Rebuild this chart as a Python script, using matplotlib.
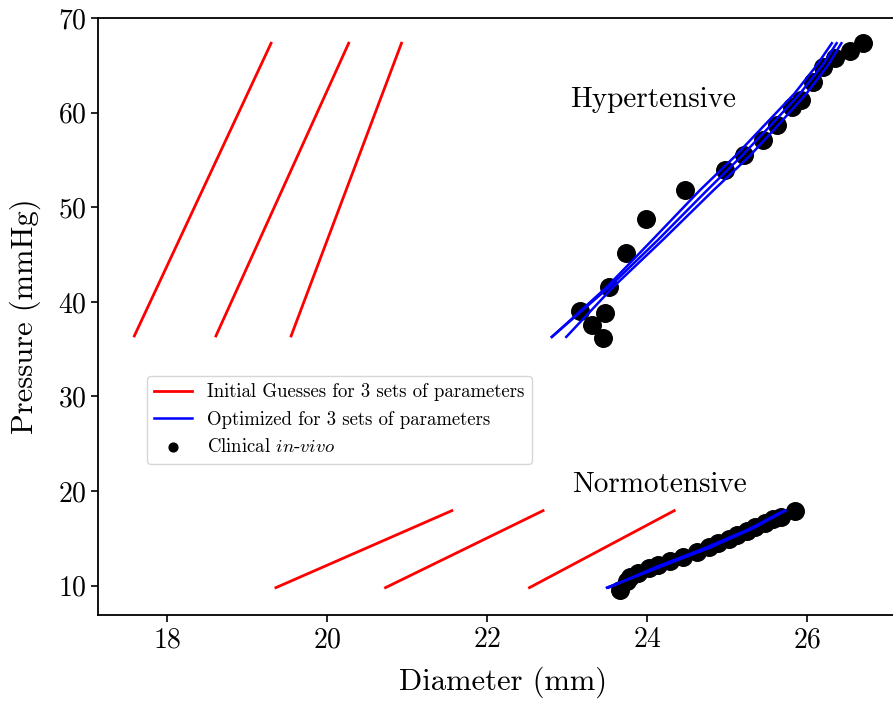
# ---  IMPORTS  --- #
# ----------------- #
import numpy as np
import matplotlib
matplotlib.use('Agg')
import matplotlib.pyplot as plt


# ---  DATA  --- #
# -------------- #
# Initial guesses (red), hypertensive: pressure range and diameters at ends
HYP_GUESS_P = [36.4, 67.35]
HYP_GUESS_1 = [17.59, 19.30]
HYP_GUESS_2 = [18.61, 20.27]
HYP_GUESS_3 = [19.55, 20.93]
# Initial guesses (red), normotensive
NORM_GUESS_P = [9.79, 17.93]
NORM_GUESS_1 = [19.36, 21.56]
NORM_GUESS_2 = [20.73, 22.70]
NORM_GUESS_3 = [22.53, 24.34]
# Optimized fits (blue), hypertensive
HYP_OPT_P = [36.3, 41.6, 46.5, 51.8, 55.4, 58.7, 62.0, 65.0, 67.35]
HYP_OPT_1 = [22.81, 23.50, 24.06, 24.66, 25.10, 25.47, 25.84, 26.12, 26.31]
HYP_OPT_2 = [22.81, 23.53, 24.13, 24.75, 25.18, 25.55, 25.91, 26.19, 26.37]
HYP_OPT_3 = [22.99, 23.58, 24.19, 24.83, 25.28, 25.64, 25.99, 26.26, 26.43]
# Optimized fits (blue), normotensive
NORM_OPT_P = [9.79, 12.0, 14.0, 16.0, 17.93]
NORM_OPT_1 = [23.50, 24.15, 24.76, 25.30, 25.72]
NORM_OPT_2 = [23.50, 24.17, 24.78, 25.31, 25.73]
NORM_OPT_3 = [23.52, 24.12, 24.73, 25.28, 25.71]
# Clinical in-vivo measurements, hypertensive
HYP_D = [23.45, 23.31, 23.48, 23.16, 23.52, 23.74, 23.99, 24.48, 24.975,
         25.21, 25.45, 25.62, 25.81, 25.93, 26.08, 26.20, 26.35, 26.54,
         26.70]
HYP_P = [36.16, 37.57, 38.87, 39.08, 41.62, 45.15, 48.78, 51.84, 53.96,
         55.54, 57.13, 58.72, 60.65, 61.36, 63.29, 64.88, 65.77, 66.57,
         67.35]
# Clinical in-vivo measurements, normotensive
NORM_D = [23.66, 23.75, 23.79, 23.89, 24.02, 24.14, 24.29, 24.45, 24.62,
          24.77, 24.89, 25.02, 25.12, 25.25, 25.35, 25.47, 25.58, 25.68,
          25.85]
NORM_P = [9.55, 10.5, 10.89, 11.38, 11.84, 12.19, 12.61, 13.07, 13.53,
          14.06, 14.48, 14.90, 15.36, 15.81, 16.24, 16.66, 17.02, 17.25,
          17.93]

LBL_GUESS = 'Initial Guesses for 3 sets of parameters'
LBL_OPT = 'Optimized for 3 sets of parameters'
LBL_CLIN = 'Clinical $\\it{in}$-$\\it{vivo}$'


# ---   MAIN   --- #
# ---------------- #
if __name__ == '__main__':
    plt.rcParams['font.family'] = ['cmr10', 'DejaVu Serif']
    plt.rcParams['mathtext.fontset'] = 'cm'
    plt.rcParams['axes.formatter.use_mathtext'] = True
    # Prepare fig and axes
    fig = plt.figure(figsize=(8.93, 7.03), dpi=100)
    ax = fig.add_axes([0.1101, 0.1252, 0.9065, 0.849])
    # Initial guesses
    for i, d in enumerate([HYP_GUESS_1, HYP_GUESS_2, HYP_GUESS_3]):
        ax.plot(d, HYP_GUESS_P, color='#ff0000', lw=2.0,
                label=LBL_GUESS if i == 0 else None)
    for d in [NORM_GUESS_1, NORM_GUESS_2, NORM_GUESS_3]:
        ax.plot(d, NORM_GUESS_P, color='#ff0000', lw=2.0)
    # Clinical data
    ax.scatter(HYP_D, HYP_P, s=160, color='black', zorder=3, label=LBL_CLIN)
    ax.scatter(NORM_D, NORM_P, s=160, color='black', zorder=3)
    # Optimized fits
    for i, d in enumerate([HYP_OPT_1, HYP_OPT_2, HYP_OPT_3]):
        ax.plot(d, HYP_OPT_P, color='#0000ff', lw=1.8, zorder=4,
                label=LBL_OPT if i == 0 else None)
    for d in [NORM_OPT_1, NORM_OPT_2, NORM_OPT_3]:
        ax.plot(d, NORM_OPT_P, color='#0000ff', lw=1.8, zorder=4)
    # Annotations
    ax.text(24.08, 60.59, 'Hypertensive', fontsize=21, ha='center',
            va='baseline')
    ax.text(24.15, 19.94, 'Normotensive', fontsize=21, ha='center',
            va='baseline')
    # Format plot
    ax.set_xlim(17.14, 27.26)
    ax.set_ylim(6.9, 70.0)
    ax.set_xticks([18, 20, 22, 24, 26])
    ax.set_yticks([10, 20, 30, 40, 50, 60, 70])
    ax.tick_params(labelsize=20, length=5, width=1.2)
    for sp in ax.spines.values():
        sp.set_linewidth(1.3)
    ax.set_xlabel('Diameter (mm)', fontsize=22, labelpad=10)
    ax.set_ylabel('Pressure (mmHg)', fontsize=22, labelpad=12)
    handles, labels = ax.get_legend_handles_labels()
    order = [labels.index(LBL_GUESS), labels.index(LBL_OPT),
             labels.index(LBL_CLIN)]
    ax.legend([handles[k] for k in order], [labels[k] for k in order],
              loc='upper left', bbox_to_anchor=(0.060, 0.4005),
              borderaxespad=0, fontsize=13.5, markerscale=0.5)
    # Save
    fig.savefig('out.png', dpi=100)
